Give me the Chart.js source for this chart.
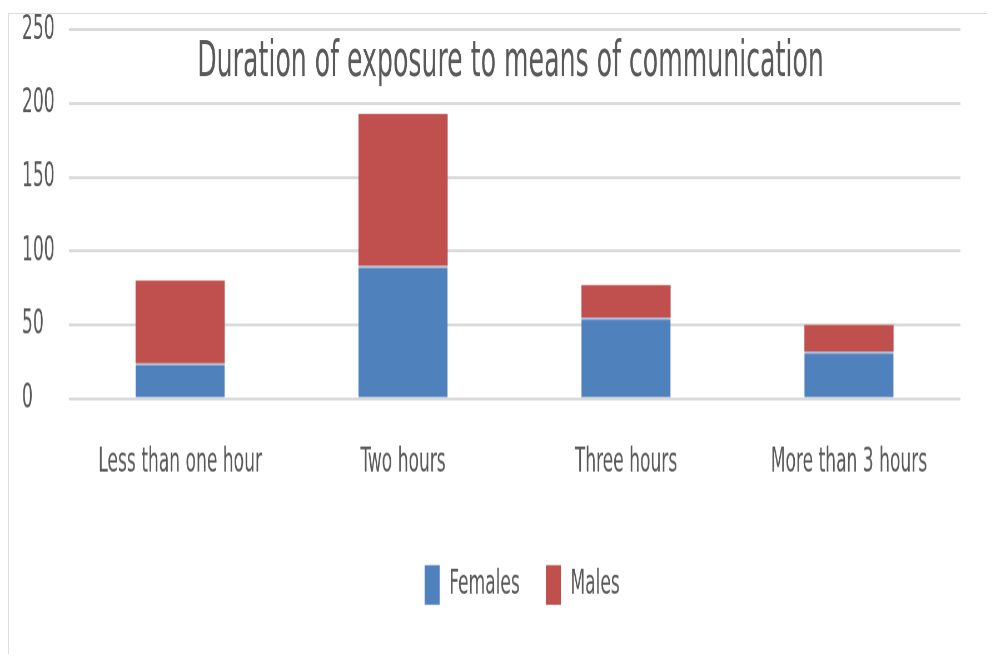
<!DOCTYPE html>
<html>
<head>
<meta charset="utf-8">
<script src="https://cdn.jsdelivr.net/npm/chart.js@4.4.0/dist/chart.umd.min.js"></script>
<style>
  html, body { margin: 0; padding: 0; background: #fff; overflow: hidden; }
  #frame { position: absolute; left: 8px; top: 13px; width: 978px; height: 640px;
           border-left: 1px solid #dcdcdc; border-top: 1px solid #dcdcdc; }
  /* the original chart is a tall-stretched excel picture: draw it flat, then stretch it */
  #exposureChart { position: absolute; left: 0; top: 0; transform: scaleY(1.8); transform-origin: 0 0; }
</style>
</head>
<body>
<div id="frame"></div>
<canvas id="exposureChart" width="996" height="366"></canvas>
<script>
const categories = ['Less than one hour', 'Two hours', 'Three hours', 'More than 3 hours'];
const females = [24, 90, 55, 32];
const males = [56, 103, 22, 18];
const yTicks = [0, 50, 100, 150, 200, 250];
const chartTitle = 'Duration of exposure to means of communication';

const FONT = "'DejaVu Sans Condensed', 'Liberation Sans Narrow', sans-serif";
const TEXT = '#595959';

// title sits inside the plot area, like the excel original
const overlayTitle = {
    id: 'overlayTitle',
    beforeDatasetsDraw(chart) {
        const ctx = chart.ctx;
        const area = chart.chartArea;
        ctx.save();
        ctx.font = '28px ' + FONT;
        ctx.fillStyle = TEXT;
        ctx.textAlign = 'center';
        ctx.textBaseline = 'middle';
        ctx.fillText(chartTitle, (area.left + area.right) / 2 - 4, 35);
        ctx.restore();
    }
};

// legend in the original is a bit right of centre
const legendShift = {
    id: 'legendShift',
    afterLayout(chart) {
        chart.legend.left += 31;
        chart.legend.right += 31;
    }
};

new Chart(document.getElementById('exposureChart'), {
    type: 'bar',
    data: {
        labels: categories,
        datasets: [{
            label: 'Females',
            data: females,
            backgroundColor: '#4f81bd',
            borderColor: '#aebfdc',
            borderWidth: { top: 1.2, left: 0, right: 0, bottom: 0 },
            borderSkipped: false
        }, {
            label: 'Males',
            data: males,
            backgroundColor: '#c0504d',
            borderWidth: 0
        }]
    },
    options: {
        responsive: false,
        devicePixelRatio: 1.8,
        animation: false,
        layout: { padding: { left: 22, right: 36, top: 5, bottom: 20.4 } },
        datasets: { bar: { categoryPercentage: 1, barPercentage: 0.4 } },
        scales: {
            x: {
                stacked: true,
                grid: { display: false, drawTicks: false },
                border: { display: false },
                ticks: { color: TEXT, font: { family: FONT, size: 19 }, padding: 24, maxRotation: 0, autoSkip: false },
                afterFit(scale) { scale.height = 66.4; }
            },
            y: {
                stacked: true,
                min: 0,
                max: 250,
                grid: { color: '#dadada', lineWidth: 1.7, drawTicks: false },
                border: { display: false },
                afterBuildTicks(scale) { scale.ticks = yTicks.map(v => ({ value: v })); },
                ticks: { color: TEXT, font: { family: FONT, size: 19, lineHeight: 1 }, padding: 7, crossAlign: 'far' }
            }
        },
        plugins: {
            legend: {
                position: 'bottom',
                labels: {
                    color: TEXT,
                    font: { family: FONT, size: 19 },
                    boxWidth: 15,
                    boxHeight: 22,
                    padding: 26
                }
            },
            tooltip: { enabled: false }
        }
    },
    plugins: [overlayTitle, legendShift]
});
</script>
</body>
</html>
